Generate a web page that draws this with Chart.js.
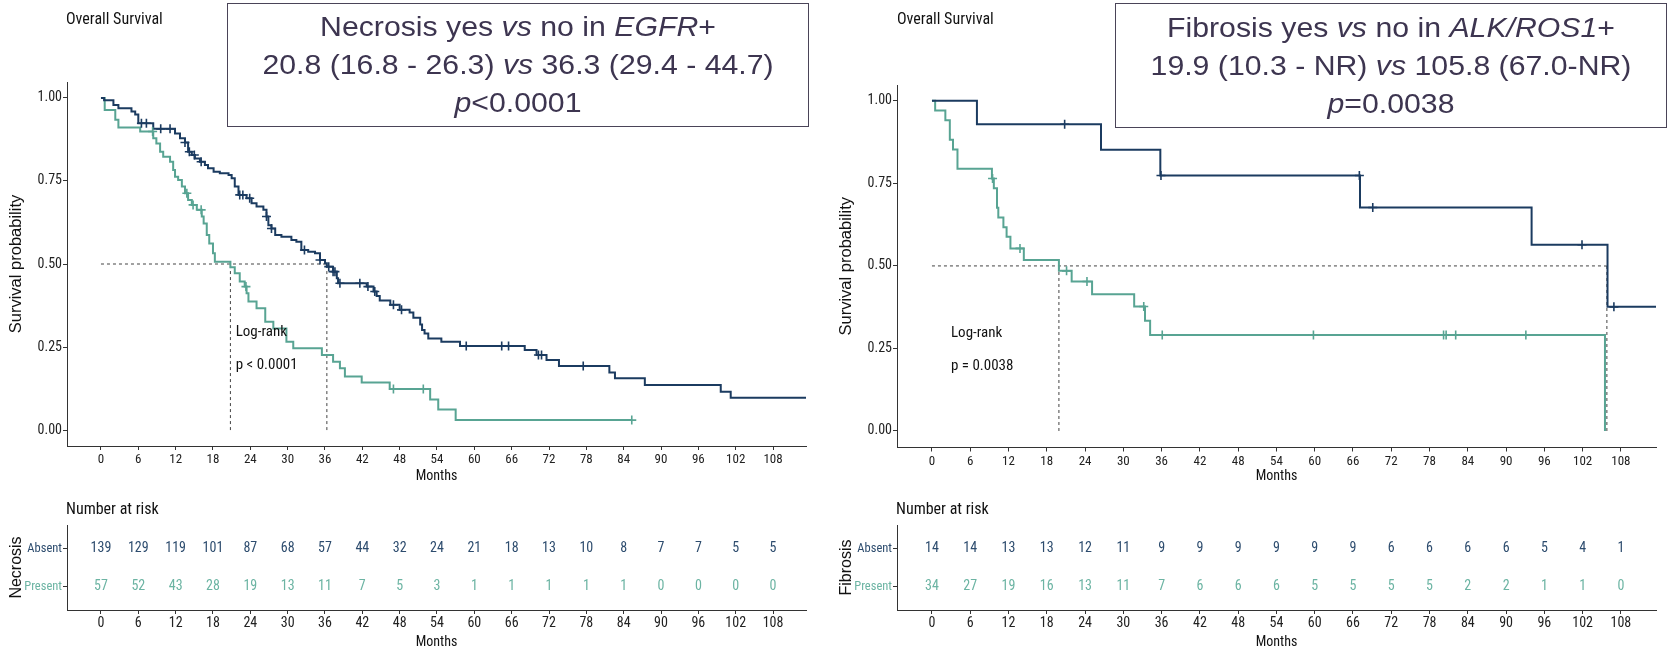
<!DOCTYPE html>
<html><head><meta charset="utf-8">
<script src="https://cdn.jsdelivr.net/npm/chart.js@4.4.1/dist/chart.umd.min.js"></script>
<style>
html,body{margin:0;padding:0;background:#fff;}
body{width:1675px;height:652px;position:relative;overflow:hidden;}
canvas{position:absolute;}
.box{position:absolute;background:#fff;border:1.5px solid #4a4458;box-sizing:border-box;color:#3d3550;
 font-family:"Liberation Sans",Arial,sans-serif;font-size:27.5px;line-height:38px;text-align:center;
 display:flex;flex-direction:column;justify-content:center;z-index:5;}
.box div{transform:scaleX(1.1);transform-origin:50% 50%;white-space:nowrap;}
.lbl{position:absolute;white-space:nowrap;color:#111;
 font-family:"Liberation Sans Narrow","Arial Narrow","Roboto Condensed","DejaVu Sans Condensed",sans-serif;}
</style></head><body>
<canvas id="kmA" width="830" height="490" style="left:0;top:0"></canvas>
<canvas id="kmB" width="845" height="490" style="left:830px;top:0"></canvas>
<canvas id="rtA" width="830" height="162" style="left:0;top:490px"></canvas>
<canvas id="rtB" width="845" height="162" style="left:830px;top:490px"></canvas>

<div class="lbl" style="left:66px;top:9px;font-size:16px;line-height:20px">Overall Survival</div>
<div class="lbl" style="left:897px;top:9px;font-size:16px;line-height:20px">Overall Survival</div>
<div class="lbl" style="left:66px;top:499px;font-size:16px;line-height:20px">Number at risk</div>
<div class="lbl" style="left:896px;top:499px;font-size:16px;line-height:20px">Number at risk</div>

<div class="box" style="left:227px;top:3px;width:582px;height:124px">
 <div>Necrosis yes <i>vs</i> no in <i>EGFR</i>+</div>
 <div>20.8 (16.8 - 26.3) <i>vs</i> 36.3 (29.4 - 44.7)</div>
 <div><i>p</i>&lt;0.0001</div>
</div>
<div class="box" style="left:1115px;top:3px;width:552px;height:125px">
 <div>Fibrosis yes <i>vs</i> no in <i>ALK/ROS1</i>+</div>
 <div>19.9 (10.3 - NR) <i>vs</i> 105.8 (67.0-NR)</div>
 <div><i>p</i>=0.0038</div>
</div>

<script>
// ---------------- DATA ----------------
const monthTicks = [0,6,12,18,24,30,36,42,48,54,60,66,72,78,84,90,96,102,108];
const survTicks = [0,0.25,0.5,0.75,1];
const survTickLabels = ['0.00','0.25','0.50','0.75','1.00'];
const riskGroups = ['Absent','Present'];

// Panel A: Necrosis in EGFR+
const necAbsentTime = [0,0.5,2.0,2.8,4.9,5.5,6.0,8.4,11.9,12.7,13.5,14.0,14.6,15.1,15.9,16.7,17.2,18.1,19.1,20.5,21.0,21.5,22.1,23.4,24.2,25.0,26.1,26.6,26.9,27.4,28.0,29.0,30.6,31.4,32.2,33.3,34.4,35.2,36.0,36.3,37.3,37.9,38.1,42.7,43.8,44.3,44.8,46.5,48.0,49.6,50.2,51.3,51.6,52.0,52.6,54.7,57.7,68.1,70.0,71.6,73.6,81.7,82.6,87.4,99.6,101.2,113.3];
const necAbsentSurv = [1,0.993,0.979,0.969,0.959,0.950,0.924,0.907,0.893,0.879,0.866,0.838,0.828,0.818,0.808,0.798,0.788,0.778,0.773,0.768,0.758,0.733,0.708,0.698,0.683,0.673,0.663,0.643,0.617,0.607,0.587,0.582,0.572,0.567,0.542,0.537,0.532,0.512,0.502,0.492,0.477,0.457,0.442,0.432,0.417,0.404,0.390,0.377,0.362,0.354,0.338,0.318,0.301,0.291,0.276,0.266,0.253,0.241,0.226,0.211,0.193,0.173,0.156,0.136,0.115,0.097,0.097];
const necAbsentCensor = [6.5,7.3,9.6,11.1,13.5,14.2,15.0,16.1,22.3,22.8,23.9,26.6,27.4,32.7,35.2,36.6,37.3,37.6,38.4,41.6,42.9,44.0,47.0,48.3,58.7,64.4,65.5,70.3,70.8,77.5];
const necPresentTime = [0,0.6,2.3,2.8,6.3,8.4,8.9,9.5,10.0,11.1,11.6,11.9,12.4,13.0,13.5,14.0,14.6,15.4,16.2,16.5,17.0,17.4,18.0,18.3,20.8,21.5,22.3,23.1,23.4,23.7,25.0,26.4,27.7,29.8,30.9,35.5,37.3,38.4,39.2,41.9,46.4,52.9,54.2,57.0,85.3];
const necPresentSurv = [1,0.964,0.934,0.911,0.899,0.879,0.863,0.838,0.823,0.808,0.783,0.763,0.753,0.733,0.713,0.693,0.678,0.663,0.643,0.622,0.587,0.562,0.532,0.507,0.490,0.472,0.447,0.432,0.412,0.387,0.367,0.326,0.306,0.266,0.246,0.226,0.206,0.186,0.161,0.143,0.124,0.092,0.062,0.030,0.030];
const necPresentCensor = [8.3,13.8,14.8,16.1,23.3,47.0,51.8,85.3];
const necMedian = [20.8,36.3];
const necRiskAbsent = [139,129,119,101,87,68,57,44,32,24,21,18,13,10,8,7,7,5,5];
const necRiskPresent = [57,52,43,28,19,13,11,7,5,3,1,1,1,1,1,0,0,0,0];

// Panel B: Fibrosis in ALK/ROS1+
const fibAbsentTime = [0,7.05,26.5,35.8,67.1,94.0,105.9,113.5];
const fibAbsentSurv = [1,0.929,0.852,0.774,0.677,0.564,0.376,0.376];
const fibAbsentCensor = [20.8,35.9,67.0,69.1,101.9,106.9];
const fibPresentTime = [0,0.5,2.1,2.8,3.3,4.0,9.4,9.7,10.2,10.4,11.2,11.7,12.3,14.4,19.9,21.9,25.1,31.7,33.4,34.2,105.5];
const fibPresentSurv = [1,0.971,0.941,0.882,0.853,0.794,0.765,0.735,0.676,0.647,0.617,0.588,0.553,0.518,0.485,0.453,0.414,0.377,0.334,0.291,0];
const fibPresentCensor = [9.5,13.8,21.1,24.3,33.2,36.1,59.8,80.2,80.6,82.1,93.1];
const fibMedian = [19.9,105.8];
const fibRiskAbsent = [14,14,13,13,12,11,9,9,9,9,9,9,6,6,6,6,5,4,1];
const fibRiskPresent = [34,27,19,16,13,11,7,6,6,6,5,5,5,5,2,2,1,1,0];

// ---------------- STYLE ----------------
const NARROW = '"Liberation Sans Narrow","Arial Narrow","Roboto Condensed","DejaVu Sans Condensed",sans-serif';
const SANS = '"Liberation Sans",Arial,sans-serif';
const NAVY = '#1b3b60', TEAL = '#58a493';
const RISK_NAVY = '#2d4c6e', RISK_TEAL = '#6cb4a3';
const AXIS = '#333';

function stepAt(times, survs, t){
  let s = survs[0];
  for (let i=0;i<times.length;i++){ if (times[i] <= t) s = survs[i]; else break; }
  return s;
}
function curveDS(times, survs, color){
  return {type:'line', data: times.map((t,i)=>({x:t,y:survs[i]})), stepped:true,
    borderColor:color, borderWidth:2, pointRadius:0, fill:false, order:1};
}
function censorDS(cens, times, survs, color){
  return {type:'line', showLine:false, data: cens.map(t=>({x:t,y:stepAt(times,survs,t)})),
    pointStyle:'cross', pointRadius:4.5, pointBorderWidth:1.6, pointBorderColor:color,
    borderColor:color, backgroundColor:color, order:0};
}
function dashDS(pts){
  return {type:'line', data:pts, borderColor:'#444', borderWidth:1, borderDash:[3,3],
    pointRadius:0, fill:false, order:2};
}
function medianDS(meds){
  const out = [dashDS([{x:0,y:0.5},{x:Math.max(...meds),y:0.5}])];
  meds.forEach(m=>out.push(dashDS([{x:m,y:0},{x:m,y:0.5}])));
  return out;
}
function notePlugin(lines){
  return {id:'note', afterDatasetsDraw(chart){
    const ctx=chart.ctx, xs=chart.scales.x, ys=chart.scales.y;
    ctx.save(); ctx.font = '15px '+NARROW; ctx.fillStyle='#111';
    ctx.textAlign='left'; ctx.textBaseline='middle';
    lines.forEach(l=>ctx.fillText(l.text, xs.getPixelForValue(l.x), ys.getPixelForValue(l.y)));
    ctx.restore();
  }};
}
function riskPlugin(rows){
  return {id:'risk', afterDatasetsDraw(chart){
    const ctx=chart.ctx, xs=chart.scales.x, ys=chart.scales.y;
    ctx.save(); ctx.font = '14px '+NARROW; ctx.textAlign='center'; ctx.textBaseline='middle';
    rows.forEach(r=>{
      ctx.fillStyle = r.color;
      r.values.forEach((v,i)=>ctx.fillText(String(v), xs.getPixelForValue(monthTicks[i]), ys.getPixelForValue(r.y)));
    });
    ctx.restore();
  }};
}
function xScale(min,max,h,tickSize,tickPad,titlePadB){
  return {type:'linear', min, max,
    afterBuildTicks: s=>{ s.ticks = monthTicks.map(v=>({value:v})); },
    afterFit: s=>{ s.height = h; },
    grid:{display:true, drawOnChartArea:false, drawTicks:true, tickLength:4, color:AXIS, lineWidth:1},
    border:{display:true, color:AXIS, width:1},
    ticks:{font:{family:NARROW,size:tickSize}, color:'#222', padding:tickPad, maxRotation:0, autoSkip:false,
      callback:v=>String(v)},
    title:{display:true, text:'Months', color:'#111', font:{family:NARROW,size:14}, padding:{top:0,bottom:titlePadB}}
  };
}
function mainChart(id, o){
  return new Chart(document.getElementById(id), {
    type:'line',
    data:{datasets:[...medianDS(o.med), curveDS(o.aT,o.aS,NAVY), curveDS(o.pT,o.pS,TEAL),
      censorDS(o.aC,o.aT,o.aS,NAVY), censorDS(o.pC,o.pT,o.pS,TEAL)]},
    options:{responsive:false, animation:false, events:[],
      layout:{padding:{top:o.top,right:o.right,left:0,bottom:0}},
      plugins:{legend:{display:false}, tooltip:{enabled:false}},
      scales:{
        x: xScale(o.xmin,o.xmax,o.xh,13,2,5.6),
        y: {type:'linear', min:o.ymin, max:o.ymax,
          afterBuildTicks: s=>{ s.ticks = survTicks.map(v=>({value:v})); },
          afterFit: s=>{ s.width = 67; },
          grid:{display:true, drawOnChartArea:false, drawTicks:true, tickLength:4, color:AXIS, lineWidth:1},
          border:{display:true, color:AXIS, width:1},
          ticks:{font:{family:NARROW,size:14}, color:'#222', padding:1,
            callback:v=>survTickLabels[survTicks.indexOf(v)]},
          title:{display:true, text:'Survival probability', color:'#111', font:{family:SANS,size:16.5}, padding:{top:7,bottom:0}}
        }
      }
    },
    plugins:[notePlugin(o.notes)]
  });
}
function riskChart(id, o){
  return new Chart(document.getElementById(id), {
    type:'line',
    data:{datasets:[{type:'line', data:[], pointRadius:0}]},
    options:{responsive:false, animation:false, events:[],
      layout:{padding:{top:35,right:o.right,left:0,bottom:0}},
      plugins:{legend:{display:false}, tooltip:{enabled:false}},
      scales:{
        x: xScale(o.xmin,o.xmax,42,14,1,1.6),
        y: {type:'linear', min:-0.605, max:1.63,
          afterBuildTicks: s=>{ s.ticks = [{value:1},{value:0}]; },
          afterFit: s=>{ s.width = 67; },
          grid:{display:true, drawOnChartArea:false, drawTicks:true, tickLength:4, color:AXIS, lineWidth:1},
          border:{display:true, color:AXIS, width:1},
          ticks:{font:{family:NARROW,size:12.5}, padding:1,
            color: c => (c.tick && c.tick.value===1) ? RISK_NAVY : RISK_TEAL,
            callback:v=> v===1 ? riskGroups[0] : riskGroups[1]},
          title:{display:true, text:o.title, color:'#111', font:{family:SANS,size:16}, padding:{top:7.4,bottom:0}}
        }
      }
    },
    plugins:[riskPlugin([{y:1,color:RISK_NAVY,values:o.a},{y:0,color:RISK_TEAL,values:o.p}])]
  });
}

mainChart('kmA', {aT:necAbsentTime,aS:necAbsentSurv,aC:necAbsentCensor,
  pT:necPresentTime,pS:necPresentSurv,pC:necPresentCensor,med:necMedian,
  top:82,right:24,xh:44,xmin:-5.46,xmax:113.3,ymin:-0.048,ymax:1.048,
  notes:[{text:'Log-rank',x:21.65,y:0.296},{text:'p < 0.0001',x:21.65,y:0.196}]});
mainChart('kmB', {aT:fibAbsentTime,aS:fibAbsentSurv,aC:fibAbsentCensor,
  pT:fibPresentTime,pS:fibPresentSurv,pC:fibPresentCensor,med:fibMedian,
  top:85,right:19,xh:42.5,xmin:-5.48,xmax:113.5,ymin:-0.05,ymax:1.048,
  notes:[{text:'Log-rank',x:2.98,y:0.296},{text:'p = 0.0038',x:2.98,y:0.195}]});
riskChart('rtA', {title:'Necrosis', a:necRiskAbsent, p:necRiskPresent, right:24, xmin:-5.46, xmax:113.3});
riskChart('rtB', {title:'Fibrosis', a:fibRiskAbsent, p:fibRiskPresent, right:19, xmin:-5.48, xmax:113.5});
</script>
</body></html>
